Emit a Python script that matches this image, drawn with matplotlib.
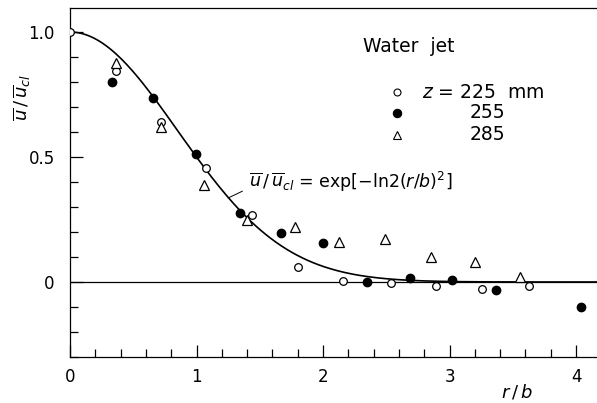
import numpy as np
import matplotlib
matplotlib.use("Agg")
import matplotlib.pyplot as plt
from matplotlib.ticker import MultipleLocator

# measured mean velocity profiles, three downstream stations
r_225 = [0.0, 0.36, 0.72, 1.075, 1.44, 1.80, 2.16, 2.54, 2.89, 3.26, 3.63]
u_225 = [1.0, 0.844, 0.64, 0.456, 0.268, 0.06, 0.004, -0.004, -0.016, -0.028, -0.016]

r_255 = [0.33, 0.66, 0.996, 1.34, 1.67, 2.0, 2.35, 2.69, 3.02, 3.37, 4.04]
u_255 = [0.80, 0.736, 0.512, 0.276, 0.196, 0.156, 0.0, 0.016, 0.008, -0.032, -0.10]

r_285 = [0.36, 0.72, 1.06, 1.40, 1.78, 2.13, 2.49, 2.85, 3.20, 3.56]
u_285 = [0.876, 0.62, 0.39, 0.248, 0.22, 0.16, 0.172, 0.10, 0.08, 0.02]

xticks = [0, 1, 2, 3, 4]
yticks = [0, 0.5, 1.0]
ytick_labels = ["0", "0.5", "1.0"]

plt.rcParams["font.family"] = "DejaVu Sans"

fig = plt.figure(figsize=(5.97, 4.03), dpi=100)
ax = fig.add_axes([70 / 597, 46 / 403, 527 / 597, 349 / 403])

# gaussian fit
rr = np.linspace(0, 4.2, 300)
ax.plot(rr, np.exp(-np.log(2) * rr**2), color="black", lw=1.2, zorder=2)
ax.axhline(0, color="black", lw=0.9, zorder=1)

ax.plot(r_225, u_225, "o", ms=5.5, mfc="white", mec="black", mew=0.9, zorder=3)
ax.plot(r_255, u_255, "o", ms=6, mfc="black", mec="black", zorder=3)
ax.plot(r_285, u_285, "^", ms=6.5, mfc="white", mec="black", mew=0.9, zorder=3)

ax.set_xlim(0, 527 / 126.5)
ax.set_ylim(-0.3, 274 / 250)

ax.spines["right"].set_visible(False)
for s in ["left", "bottom", "top"]:
    ax.spines[s].set_linewidth(0.9)

ax.set_xticks(xticks)
ax.set_xticklabels([str(t) for t in xticks], fontsize=12)
ax.xaxis.set_minor_locator(MultipleLocator(0.2))
ax.set_yticks(yticks)
ax.set_yticklabels(ytick_labels, fontsize=12)
ax.yaxis.set_minor_locator(MultipleLocator(0.1))
ax.tick_params(which="major", direction="in", length=9, width=0.9, pad=8)
ax.tick_params(axis="y", which="major", pad=11)
ax.tick_params(which="minor", direction="in", length=5.5, width=0.9)
ax.tick_params(top=False, right=False, which="both")

# axis titles, placed in pixels
fig.text(22 / 597, (403 - 97) / 403, r"$\overline{u}\,/\,\overline{u}_{cl}$",
         fontsize=13, rotation=90, ha="center", va="center")
fig.text(517 / 597, 11 / 403, r"$r\,/\,b$", fontsize=13, ha="center", va="center")

# legend block
fig.text(363 / 597, (403 - 47) / 403, "Water  jet", fontsize=13.5, va="center")
leg_y = [92, 113, 135]
for (m, fc, ms), y, lab, x0 in zip([("o", "white", 5), ("o", "black", 6), ("^", "white", 5.5)],
                                   leg_y, [r"$z$ = 225  mm", "255", "285"],
                                   [422, 470, 470]):
    fig.lines.append(plt.Line2D([397 / 597], [(403 - y) / 403], marker=m,
                                ms=ms, mfc=fc, mec="black", mew=0.8,
                                transform=fig.transFigure))
    fig.text(x0 / 597, (403 - y) / 403, lab, fontsize=13.5, va="center")

# annotation of fit
ax.annotate(r"$\overline{u}\,/\,\overline{u}_{cl}$ = exp[$-$ln2$(r/b)^2$]",
            xy=(1.25, 0.336), xytext=(1.415, 0.40), fontsize=12.5,
            va="center", ha="left",
            arrowprops=dict(arrowstyle="-", lw=0.7, color="black",
                            relpos=(0, 0.25), shrinkA=3, shrinkB=0))

fig.savefig("out.png", dpi=100)
